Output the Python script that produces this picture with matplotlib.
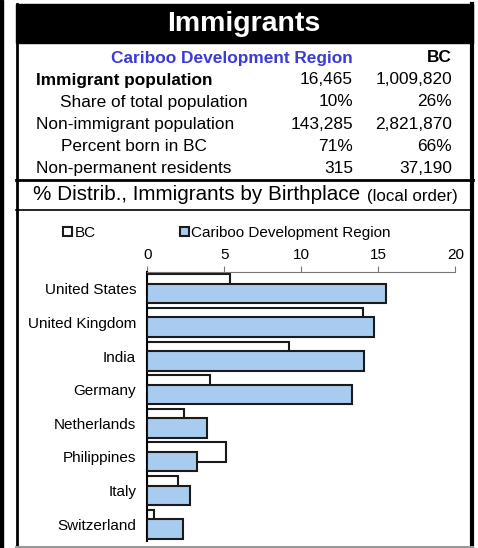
import matplotlib.pyplot as plt
from matplotlib.patches import Rectangle
from matplotlib.lines import Line2D
import numpy as np

plt.rcParams['font.family'] = ['Liberation Sans', 'DejaVu Sans']

# Data
countries = ["United States", "United Kingdom", "India", "Germany",
             "Netherlands", "Philippines", "Italy", "Switzerland"]
bc_pct = [5.4, 14.0, 9.2, 4.1, 2.4, 5.1, 2.0, 0.45]
cariboo_pct = [15.5, 14.7, 14.1, 13.3, 3.9, 3.2, 2.8, 2.3]

region_name = "Cariboo Development Region"
row_labels = ["Immigrant population", "Share of total population",
              "Non-immigrant population", "Percent born in BC",
              "Non-permanent residents"]
region_vals = ["16,465", "10%", "143,285", "71%", "315"]
bc_vals = ["1,009,820", "26%", "2,821,870", "66%", "37,190"]

W, H = 478, 548
fig = plt.figure(figsize=(W / 100, H / 100), dpi=100)

def fx(x):
    return x / W

def fy(y):
    return 1 - y / H

# frame pieces
fig.patches.append(Rectangle((0, 0), fx(3), 1, transform=fig.transFigure,
                             color="black", zorder=0))
fig.patches.append(Rectangle((fx(16), fy(43)), fx(473) - fx(16), fy(4) - fy(43),
                             transform=fig.transFigure, color="black", zorder=1))
fig.lines.append(Line2D([fx(16.5), fx(16.5)], [fy(4), fy(548)], transform=fig.transFigure,
                        color="black", lw=2))
fig.lines.append(Line2D([fx(472), fx(472)], [fy(4), fy(548)], transform=fig.transFigure,
                        color="black", lw=3))
fig.lines.append(Line2D([fx(16), fx(473)], [fy(180), fy(180)], transform=fig.transFigure,
                        color="black", lw=2))
fig.lines.append(Line2D([fx(16), fx(473)], [fy(209.5), fy(209.5)], transform=fig.transFigure,
                        color="black", lw=1.2))
fig.lines.append(Line2D([fx(16), fx(473)], [fy(547), fy(547)], transform=fig.transFigure,
                        color="#999999", lw=1.5))

# header and table
fig.text(fx(244), fy(24), "Immigrants", color="white", fontsize=20.5,
         fontweight="bold", ha="center", va="center")
fs = 12.4
fig.text(fx(353), fy(58), region_name, color="#3b3bd6", fontsize=fs,
         fontweight="bold", ha="right", va="center")
fig.text(fx(452), fy(58), "BC", color="black", fontsize=fs,
         fontweight="bold", ha="right", va="center")
row_y = [80, 102, 124, 146, 169]
row_x = [36, 60, 36, 61, 36]
for i, lab in enumerate(row_labels):
    fw = "bold" if i == 0 else "normal"
    fig.text(fx(row_x[i]), fy(row_y[i]), lab, fontsize=fs, fontweight=fw,
             ha="left", va="center")
    fig.text(fx(353), fy(row_y[i]), region_vals[i], fontsize=fs, ha="right", va="center")
    fig.text(fx(452), fy(row_y[i]), bc_vals[i], fontsize=fs, ha="right", va="center")

fig.text(fx(33), fy(195), "% Distrib., Immigrants by Birthplace", fontsize=14.9,
         ha="left", va="center")
fig.text(fx(458), fy(196), "(local order)", fontsize=12.2, ha="right", va="center")

# bar chart
ax = fig.add_axes([fx(147.3), fy(541), fx(455.3) - fx(147.3), fy(272) - fy(541)])
y = np.arange(len(countries))
b1 = ax.barh(y - 0.14, bc_pct, height=0.58, color="white", edgecolor="#1a1a1a",
             lw=1.5, zorder=2, label="BC")
b2 = ax.barh(y + 0.14, cariboo_pct, height=0.58, color="#a8cbf0", edgecolor="#1a1a1a",
             lw=1.5, zorder=3, label=region_name)
ax.set_xlim(0, 20)
ax.set_ylim(len(countries) - 0.5, -0.5)
ax.set_xticks([0, 5, 10, 15, 20])
ax.set_yticks(y)
ax.set_yticklabels(countries)
ax.xaxis.tick_top()
ax.tick_params(axis="x", direction="out", length=4, color="#777777", labelsize=11, pad=3)
ax.tick_params(axis="y", length=0, labelsize=11, pad=8)
for s in ["right", "bottom"]:
    ax.spines[s].set_visible(False)
ax.spines["top"].set_color("#777777")
ax.spines["left"].set_color("black")
ax.spines["left"].set_linewidth(1.5)
ax.set_facecolor("none")

fig.legend(handles=[b1, b2], loc="center left", bbox_to_anchor=(fx(63), fy(233)),
           ncol=2, frameon=False, fontsize=11, handlelength=0.6, handleheight=0.6,
           handletextpad=0.15, columnspacing=5.5, borderpad=0, borderaxespad=0)

fig.savefig("out.png", dpi=100)
